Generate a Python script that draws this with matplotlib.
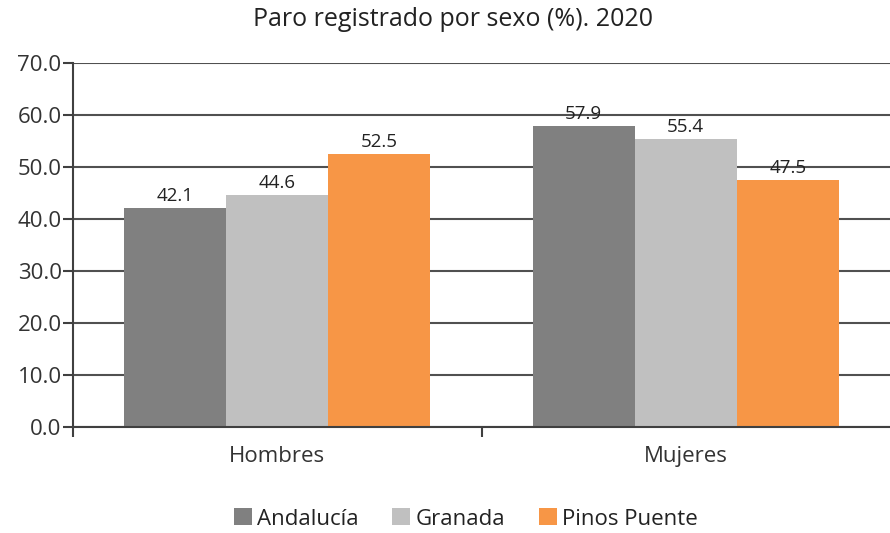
import matplotlib
matplotlib.use("Agg")
import matplotlib.pyplot as plt
from matplotlib.ticker import FixedLocator, NullFormatter
import numpy as np

categories = ["Hombres", "Mujeres"]
series_names = ["Andalucía", "Granada", "Pinos Puente"]
andalucia = [42.1, 57.9]
granada = [44.6, 55.4]
pinos = [52.5, 47.5]
yticks = [0, 10, 20, 30, 40, 50, 60, 70]

colors = ["#808080", "#c0c0c0", "#f79646"]
plt.rcParams['font.family'] = ['Open Sans', 'DejaVu Sans']

fig = plt.figure(figsize=(8.9, 5.33), dpi=100)
ax = fig.add_axes([73/890, 106/533, 817/890, 364/533])

x = np.arange(len(categories))
w = 0.25
for i, (vals, name, c) in enumerate(zip([andalucia, granada, pinos], series_names, colors)):
    bars = ax.bar(x + (i - 1) * w, vals, w, color=c, label=name, zorder=2)
    for b, v in zip(bars, vals):
        ax.text(b.get_x() + b.get_width() / 2, v + 0.5, f"{v:.1f}", ha="center", va="bottom",
                fontsize=13.5, color="#222222", zorder=3)

ax.set_xlim(-0.5, 1.5)
ax.set_ylim(0, 70)
ax.set_yticks(yticks)
ax.set_yticklabels([f"{t:.1f}" for t in yticks], fontsize=16, color="#333333")
ax.yaxis.grid(True, color="#505050", linewidth=1.5, zorder=1)
ax.set_axisbelow(True)

ax.xaxis.set_major_locator(FixedLocator([-0.5, 0.5]))
ax.xaxis.set_major_formatter(NullFormatter())
ax.xaxis.set_minor_locator(FixedLocator(x))
ax.set_xticklabels(categories, minor=True, fontsize=16, color="#333333")
ax.tick_params(axis="x", which="major", length=7.2, width=1.5, color="#404040", direction="out")
ax.tick_params(axis="x", which="minor", length=0, pad=14)
ax.tick_params(axis="y", length=7.2, width=1.5, color="#404040", direction="out", pad=1)

for s in ["top", "right"]:
    ax.spines[s].set_visible(False)
for s in ["left", "bottom"]:
    ax.spines[s].set_color("#404040")
    ax.spines[s].set_linewidth(1.5)

fig.text(453/890, 1 - 20/533, "Paro registrado por sexo (%). 2020", ha="center", va="center",
         fontsize=18, color="#222222")

fig.legend(loc="center", bbox_to_anchor=(466/890, 1 - 519/533), ncol=3, frameon=False,
           fontsize=16, handlelength=0.8, handleheight=0.8, handletextpad=0.25, columnspacing=1.5,
           labelcolor="#222222")

fig.savefig("out.png", dpi=100)
